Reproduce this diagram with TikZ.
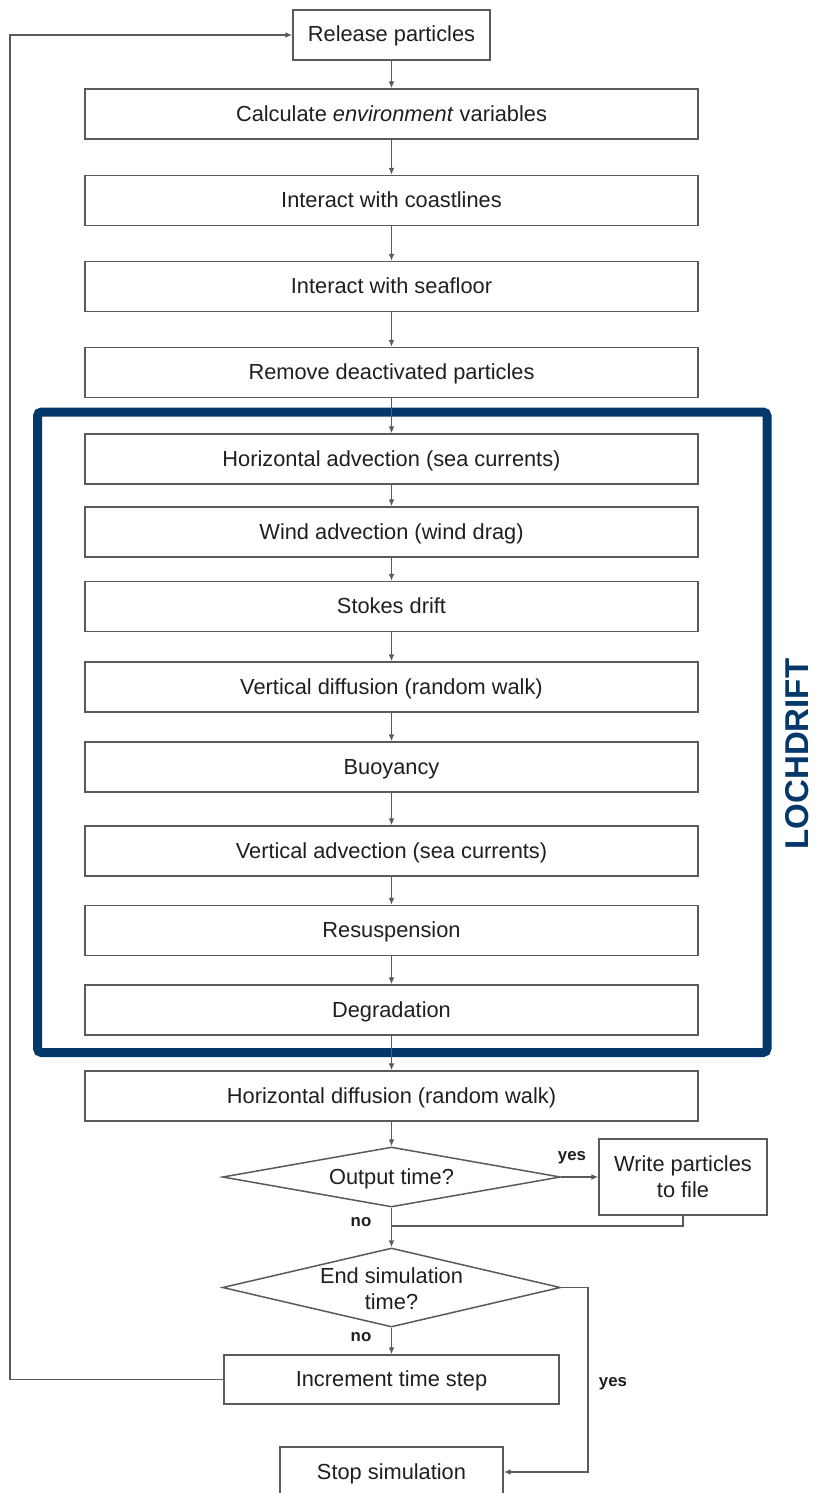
\documentclass[tikz,border=0pt]{standalone}
\usepackage{fontspec}
\setmainfont{Liberation Sans}
\usetikzlibrary{arrows.meta,shapes.geometric}
\definecolor{linegray}{HTML}{5A5A5A}
\definecolor{txt}{HTML}{1F1F1F}
\definecolor{navy}{HTML}{04386A}
\begin{document}
\begin{tikzpicture}[x=0.5pt,y=-0.5pt,
  box/.style={draw=linegray,line width=0.75pt,fill=white,inner sep=0pt,text=txt,
    font=\fontsize{10.9}{13}\selectfont,align=center,minimum height=25pt},
  one/.style={box,text height=8.6pt,text depth=1.6pt},
  wide/.style={one,minimum width=306.5pt},
  dia/.style={diamond,draw=linegray,line width=0.75pt,fill=white,inner sep=0pt,minimum width=169pt},
  dtext/.style={text=txt,font=\fontsize{10.9}{13}\selectfont,align=center,inner sep=0pt},
  arr/.style={draw=linegray,line width=0.75pt,-{Latex[length=3.4pt,width=2.9pt]}},
  ln/.style={draw=linegray,line width=0.75pt},
  lab/.style={text=txt,font=\bfseries\fontsize{8.4}{10}\selectfont,inner sep=0pt}]
\useasboundingbox (0,0) rectangle (814,1493);

% LOCHDRIFT frame
\draw[navy,line width=4.5pt,rounded corners=2pt] (37.5,412) rectangle (767,1052.5);
\node[text=navy,rotate=90,font=\bfseries\fontsize{16.5}{18}\selectfont,inner sep=0pt] (lochdrift) at (797,754) {LOCHDRIFT};

% boxes
\node[one,minimum width=98.5pt] (release) at (391.5,35) {Release particles};
\node[wide] (calc)   at (391.5,114)   {Calculate \textit{environment} variables};
\node[wide] (coast)  at (391.5,200.5) {Interact with coastlines};
\node[wide] (sea)    at (391.5,286.5) {Interact with seafloor};
\node[wide] (remove) at (391.5,372.5) {Remove deactivated particles};
\node[wide] (ha)     at (391.5,459)   {Horizontal advection (sea currents)};
\node[wide] (wind)   at (391.5,532)   {Wind advection (wind drag)};
\node[wide] (stokes) at (391.5,606.5) {Stokes drift};
\node[wide] (vd)     at (391.5,687)   {Vertical diffusion (random walk)};
\node[wide] (buoy)   at (391.5,767)   {Buoyancy};
\node[wide] (va)     at (391.5,851)   {Vertical advection (sea currents)};
\node[wide] (resusp) at (391.5,930.5) {Resuspension};
\node[wide] (degr)   at (391.5,1010)  {Degradation};
\node[wide] (hdiff)  at (391.5,1096)  {Horizontal diffusion (random walk)};

\node[dia,minimum height=30pt] (out) at (391.5,1177) {};
\node[dtext,text height=8.6pt,text depth=1.6pt] (outtxt) at (391.5,1177) {Output time?};
\node[box,minimum width=84pt,minimum height=38pt] (write) at (683,1177) {Write particles\\to file};

\node[dia,minimum height=39.5pt] (end) at (391.5,1287.5) {};
\node[dtext] (endtxt) at (391.5,1289) {End simulation\\time?};

\node[one,minimum width=167.5pt,minimum height=24.5pt] (inc) at (391.5,1379.5) {Increment time step};
\node[one,minimum width=111.5pt] (stop) at (391.5,1472) {Stop simulation};

% helper coordinates
\coordinate (merge) at (391.5,1226);
\coordinate (yesc) at (588,1472);
\coordinate (loopc) at (10,35);

% connectors
\draw[arr] (release) -- (calc);
\draw[arr] (calc) -- (coast);
\draw[arr] (coast) -- (sea);
\draw[arr] (sea) -- (remove);
\draw[arr] (remove) -- (ha);
\draw[arr] (ha) -- (wind);
\draw[arr] (wind) -- (stokes);
\draw[arr] (stokes) -- (vd);
\draw[arr] (vd) -- (buoy);
\draw[arr] (buoy) -- (va);
\draw[arr] (va) -- (resusp);
\draw[arr] (resusp) -- (degr);
\draw[arr] (degr) -- (hdiff);
\draw[arr] (hdiff) -- (out.north);
\draw[arr] (out.east) -- (write.west);
\draw[ln] (write.south) |- (merge);
\draw[arr] (out.south) -- (end.north);
\draw[arr] (end.south) -- (inc.north);
\draw[arr] (end.east) -| (yesc) -- (stop.east);
\draw[arr] (inc.west) -| (loopc) -- (release.west);

% labels
\node[lab] (yes1) at (572,1158) {yes};
\node[lab] (no1) at (361,1222) {no};
\node[lab] (no2) at (361,1337) {no};
\node[lab] (yes2) at (613,1384) {yes};
\end{tikzpicture}
\end{document}
